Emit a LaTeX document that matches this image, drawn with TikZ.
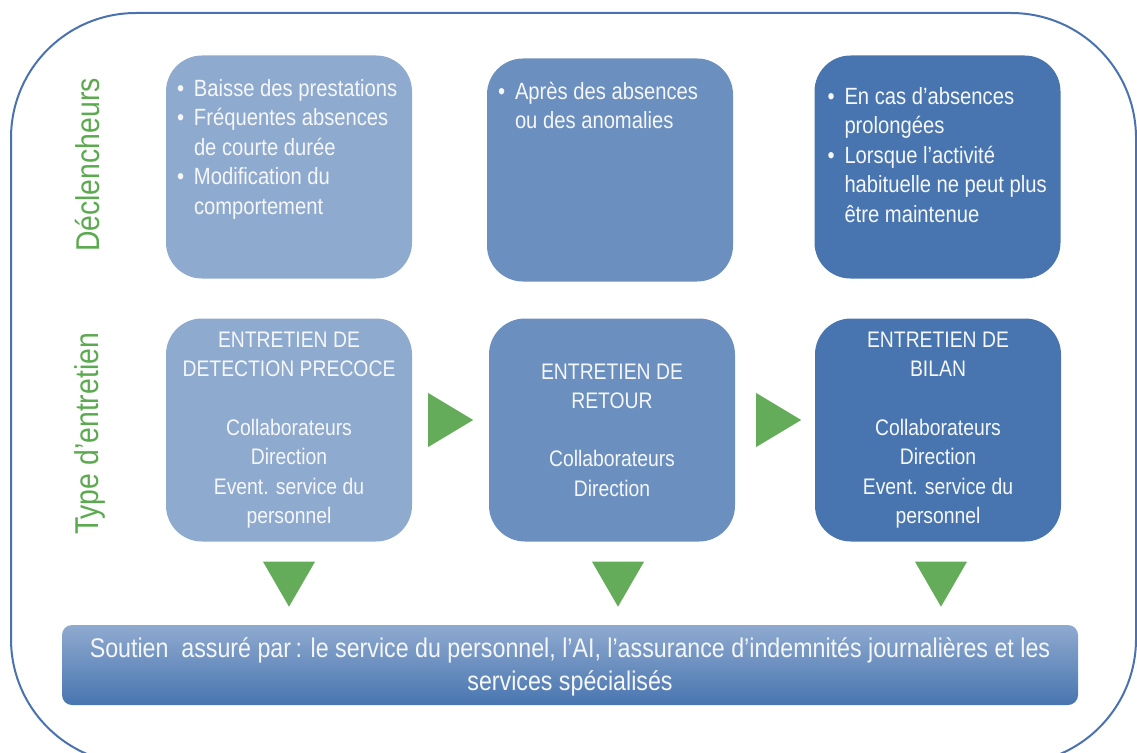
\documentclass[tikz,border=0pt]{standalone}
\usepackage{fontspec}
\setmainfont{Liberation Sans}[FakeStretch=0.86]
\usetikzlibrary{calc}
\definecolor{boxA}{RGB}{143,170,207}
\definecolor{boxB}{RGB}{107,143,191}
\definecolor{boxC}{RGB}{72,117,176}
\definecolor{frameblue}{RGB}{74,114,176}
\definecolor{arrowgreen}{RGB}{100,172,90}
\definecolor{labelgreen}{RGB}{92,170,80}
\definecolor{txt}{RGB}{245,247,250}
\newcommand{\bul}{\makebox[17pt][l]{\textbullet}}
\newcommand{\ind}{\hspace*{17pt}}
\begin{document}
\begin{tikzpicture}[x=1pt,y=-1pt,
  box/.style={rounded corners=36pt, minimum width=246pt, minimum height=223pt, inner sep=0pt,
    text=txt, align=center, font=\fontsize{22.5}{29.3}\selectfont},
  bullettext/.style={anchor=north west, inner sep=0pt, text=txt, align=left,
    font=\fontsize{23.5}{29.5}\selectfont},
  sidelabel/.style={rotate=90, text=labelgreen, font=\fontsize{33}{40}\selectfont, inner sep=0pt},
  tri/.style={fill=arrowgreen},
  frame/.style={draw=frameblue, line width=2pt, rounded corners=125pt}
]
\useasboundingbox (0,0) rectangle (1137,752);
\begin{scope}
\clip (0,0) rectangle (1137,752);
\draw[frame] (11,13) rectangle (1136,764);
\end{scope}

% side labels
\node[sidelabel] (lab1) at (88,165) {Déclencheurs};
\node[sidelabel] (lab2) at (90,434) {Type d’entretien};

% top row
\node[box, fill=boxA] (d1) at (289,167) {};
\node[box, fill=boxB] (d2) at (610,170) {};
\node[box, fill=boxC] (d3) at (937.5,167) {};

\node[bullettext] (t1) at ($(d1.north west)+(11,20)$) {\strut\bul Baisse des prestations\\ \bul Fréquentes absences\\ \ind de courte durée\\ \bul Modification du\\ \ind comportement};
\node[bullettext] (t2) at ($(d2.north west)+(11,20)$) {\strut\bul Après des absences\\ \ind ou des anomalies};
\node[bullettext] (t3) at ($(d3.north west)+(13,28)$) {\strut\bul En cas d’absences\\ \ind prolongées\\ \bul Lorsque l’activité\\ \ind habituelle ne peut plus\\ \ind être maintenue};

% bottom row
\node[box, fill=boxA] (b1) at (289,430) {ENTRETIEN DE\\ DETECTION PRECOCE\\[29.3pt] Collaborateurs\\ Direction\\ Event. service du\\ personnel};
\node[box, fill=boxB] (b2) at (612,430) {ENTRETIEN DE\\ RETOUR\\[29.3pt] Collaborateurs\\ Direction};
\node[box, fill=boxC] (b3) at (938,430) {ENTRETIEN DE\\ BILAN\\[29.3pt] Collaborateurs\\ Direction\\ Event. service du\\ personnel};

% support bar
\node[rounded corners=10pt, minimum width=1016pt, minimum height=80pt, inner sep=0pt,
  top color=boxA, bottom color=boxC, text=txt, align=center,
  font=\fontsize{27}{33}\selectfont] (s) at (570,665) {};
\node[text=txt, align=center, inner sep=0pt, font=\fontsize{27}{33}\selectfont] (st) at ($(s.center)+(0,2)$)
  {Soutien\ \ assuré par\,: le service du personnel, l’AI, l’assurance d’indemnités journalières et les\\ services spécialisés};

% right arrows
\fill[tri] ($(b1.east)+(16,-37)$) -- ($(b1.east)+(61,-10)$) -- ($(b1.east)+(16,17)$) -- cycle;
\fill[tri] ($(b2.east)+(21,-37)$) -- ($(b2.east)+(66,-10)$) -- ($(b2.east)+(21,17)$) -- cycle;

% down arrows
\fill[tri] ($(b1.south)+(-26,20)$) -- ($(b1.south)+(26,20)$) -- ($(b1.south)+(0,65)$) -- cycle;
\fill[tri] ($(b2.south)+(-20,20)$) -- ($(b2.south)+(32,20)$) -- ($(b2.south)+(6,65)$) -- cycle;
\fill[tri] ($(b3.south)+(-23,20)$) -- ($(b3.south)+(29,20)$) -- ($(b3.south)+(3,65)$) -- cycle;
\end{tikzpicture}
\end{document}
